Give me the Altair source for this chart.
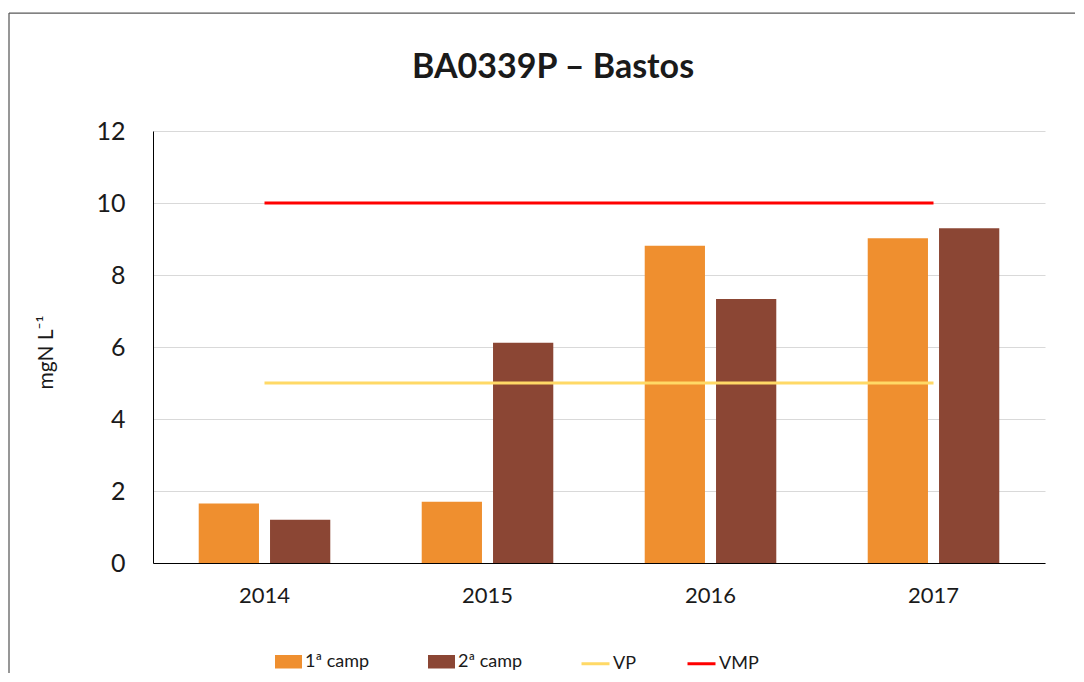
import altair as alt
import pandas as pd

years = ["2014", "2015", "2016", "2017"]
camp1 = [1.65, 1.70, 8.81, 9.02]
camp2 = [1.20, 6.12, 7.33, 9.30]
vp_value = 5
vmp_value = 10

bar_series = ["1ª camp", "2ª camp"]
line_series = ["VP", "VMP"]

bars = pd.DataFrame(
    [{"year": y, "camp": bar_series[0], "value": v} for y, v in zip(years, camp1)]
    + [{"year": y, "camp": bar_series[1], "value": v} for y, v in zip(years, camp2)]
)
lines = pd.DataFrame(
    [{"year": y, "serie": "VP", "value": vp_value} for y in years]
    + [{"year": y, "serie": "VMP", "value": vmp_value} for y in years]
)

FONT = "Lato"

x_enc = alt.X(
    "year:N",
    sort=years,
    title=None,
    scale=alt.Scale(paddingInner=0.41, paddingOuter=0.205),
    axis=alt.Axis(
        labelAngle=0, labelFontSize=22, labelColor="#1a1a1a", labelPadding=22,
        ticks=False, domainColor="#000000", domainWidth=1, grid=False,
    ),
)
y_enc = alt.Y(
    "value:Q",
    scale=alt.Scale(domain=[0, 12], nice=False),
    title="mgN L⁻¹",
    axis=alt.Axis(
        values=[0, 2, 4, 6, 8, 10, 12], labelFontSize=25, labelColor="#1a1a1a",
        labelPadding=28, ticks=False, domainColor="#000000", domainWidth=1,
        gridColor="#d9d9d9", gridWidth=1.2,
        titleFontSize=21, titleFontWeight="normal", titleColor="#1a1a1a",
        titleX=-107, titleY=221, titleBaseline="middle", titleAngle=270,
    ),
)

bar_layer = alt.Chart(bars).mark_bar().encode(
    x=x_enc,
    y=y_enc,
    xOffset=alt.XOffset("camp:N", sort=bar_series,
                        scale=alt.Scale(paddingInner=0.155, paddingOuter=0)),
    fill=alt.Fill(
        "camp:N",
        scale=alt.Scale(domain=bar_series, range=["#ef8f2f", "#8b4634"]),
        legend=alt.Legend(
            title=None, orient="none", legendX=122, legendY=517, direction="horizontal",
            symbolType="M-1,-0.5H1V0.5H-1Z", symbolSize=729, symbolStrokeWidth=0,
            labelFontSize=18, labelColor="#1a1a1a", labelOffset=3, columnPadding=58,
            padding=0,
        ),
    ),
)

line_layer = alt.Chart(lines).mark_line(strokeWidth=3).encode(
    x=alt.X("year:N", sort=years),
    y="value:Q",
    stroke=alt.Stroke(
        "serie:N",
        scale=alt.Scale(domain=line_series, range=["#ffd966", "#ff0000"]),
        legend=alt.Legend(
            title=None, orient="none", legendX=427, legendY=517, direction="horizontal",
            symbolType="stroke", symbolSize=784, symbolStrokeWidth=3,
            labelFontSize=18, labelColor="#1a1a1a", labelOffset=2, columnPadding=45,
            padding=0,
        ),
    ),
    detail="serie:N",
)

# chart frame: left and top edges (right and bottom fall outside the picture)
frame_df = pd.DataFrame({"k": [0]})
border_left = alt.Chart(frame_df).mark_rule(stroke="#595959", strokeWidth=1.25).encode(
    x=alt.value(-144), y=alt.value(-118), y2=alt.value(542)
)
border_top = alt.Chart(frame_df).mark_rule(stroke="#595959", strokeWidth=1.25).encode(
    x=alt.value(-144), x2=alt.value(922), y=alt.value(-118)
)

chart = alt.layer(bar_layer, line_layer, border_left, border_top).properties(
    width=892,
    height=432,
    padding={"left": 0, "top": 4, "right": 0, "bottom": 0},
    title=alt.TitleParams(
        "BA0339P – Bastos", fontSize=34, fontWeight="bold", font=FONT,
        color="#1a1a1a", frame="group", anchor="middle", dx=-46,
        baseline="alphabetic", offset=-100,
    ),
).configure(font=FONT).configure_view(stroke=None).resolve_scale(
    fill="independent", stroke="independent"
)

chart.save("out.html", embed_options={"renderer": "svg", "actions": False})
